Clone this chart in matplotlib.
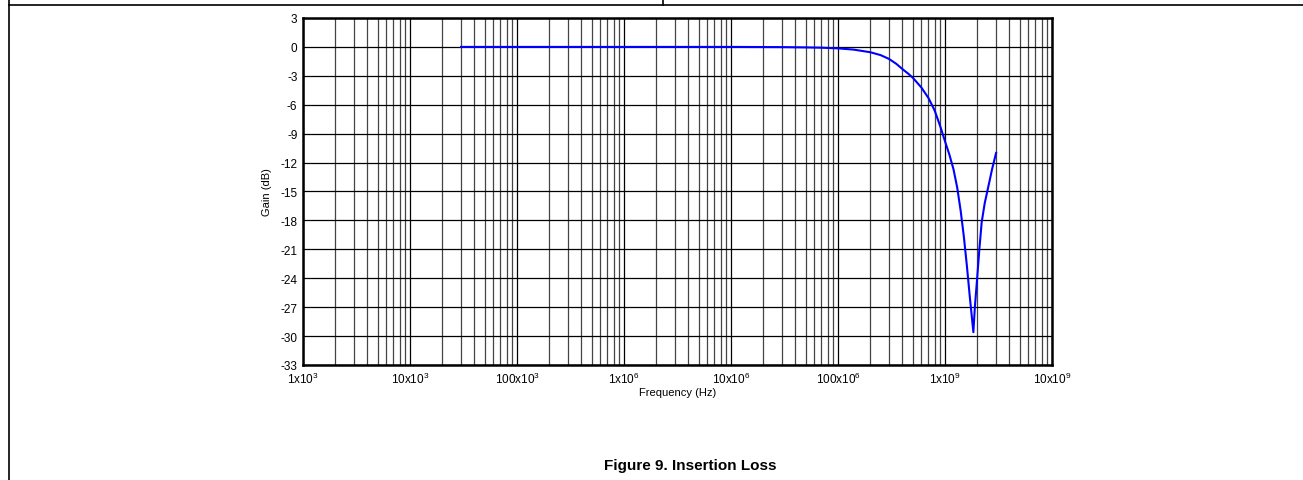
import numpy as np
import matplotlib
matplotlib.use('Agg')
import matplotlib.pyplot as plt
from matplotlib.lines import Line2D

plt.rcParams['font.family'] = ['Liberation Sans', 'DejaVu Sans']
plt.rcParams['mathtext.fontset'] = 'custom'
plt.rcParams['mathtext.rm'] = 'Liberation Sans'
plt.rcParams['mathtext.it'] = 'Liberation Sans:italic'

# insertion loss curve
freq = [3e4, 1e5, 1e6, 1e7, 3e7, 5e7, 7e7, 1e8, 1.4e8, 2e8, 2.5e8, 3e8, 3.5e8,
        4e8, 4.5e8, 5e8, 6e8, 7e8, 8e8, 9e8, 1e9, 1.1e9, 1.2e9, 1.3e9, 1.4e9,
        1.5e9, 1.6e9, 1.7e9, 1.78e9, 1.84e9, 1.9e9, 1.98e9, 2.1e9, 2.2e9,
        2.35e9, 2.55e9, 2.75e9, 3e9]
gain = [0, 0, 0, 0, -0.02, -0.05, -0.08, -0.15, -0.28, -0.55, -0.85, -1.25, -1.75,
        -2.3, -2.75, -3.2, -4.2, -5.3, -6.6, -8.2, -9.8, -11.2, -12.7, -14.6, -17.0,
        -19.7, -22.7, -25.8, -28.0, -29.6, -27.0, -24.5, -20.8, -18.2,
        -16.2, -14.4, -12.7, -11.0]

xticks = [1e3, 1e4, 1e5, 1e6, 1e7, 1e8, 1e9, 1e10]
xlabels = ['1x10$^{3}$', '10x10$^{3}$', '100x10$^{3}$', '1x10$^{6}$',
           '10x10$^{6}$', '100x10$^{6}$', '1x10$^{9}$', '10x10$^{9}$']
yticks = np.arange(-33, 4, 3)

fig = plt.figure(figsize=(13.03, 4.81), dpi=100)
ax = fig.add_axes([0.2325, 0.2391, 0.5749, 0.7214])

ax.semilogx(freq, gain, color='#0000ff', lw=1.5, zorder=3)

ax.set_xlim(1e3, 1e10)
ax.set_ylim(-33, 3)
ax.set_xticks(xticks)
ax.set_xticklabels(xlabels)
ax.set_yticks(yticks)
ax.set_yticklabels([str(v) for v in yticks])
ax.xaxis.set_minor_locator(matplotlib.ticker.LogLocator(base=10, subs=np.arange(2, 10), numticks=20))
ax.xaxis.set_minor_formatter(matplotlib.ticker.NullFormatter())

ax.grid(True, which='major', axis='both', color='black', lw=0.9)
ax.grid(True, which='minor', axis='x', color='#444444', lw=0.9)
ax.tick_params(which='both', length=0, labelsize=8.5, pad=4)
for s in ax.spines.values():
    s.set_linewidth(1.8)

ax.set_xlabel('Frequency (Hz)', fontsize=8, labelpad=1)
ax.set_ylabel('Gain (dB)', fontsize=8, labelpad=6)

fig.text(0.53, 0.031, 'Figure 9. Insertion Loss', ha='center', va='center',
         fontsize=11, fontweight='bold')

# page frame lines
fig.add_artist(Line2D([9/1303, 1], [1-6/481, 1-6/481], color='black', lw=1.2))
fig.add_artist(Line2D([9/1303, 9/1303], [0, 1], color='black', lw=1.2))
fig.add_artist(Line2D([663/1303, 663/1303], [1-6/481, 1], color='black', lw=1.2))

fig.savefig('out.png', dpi=100)
